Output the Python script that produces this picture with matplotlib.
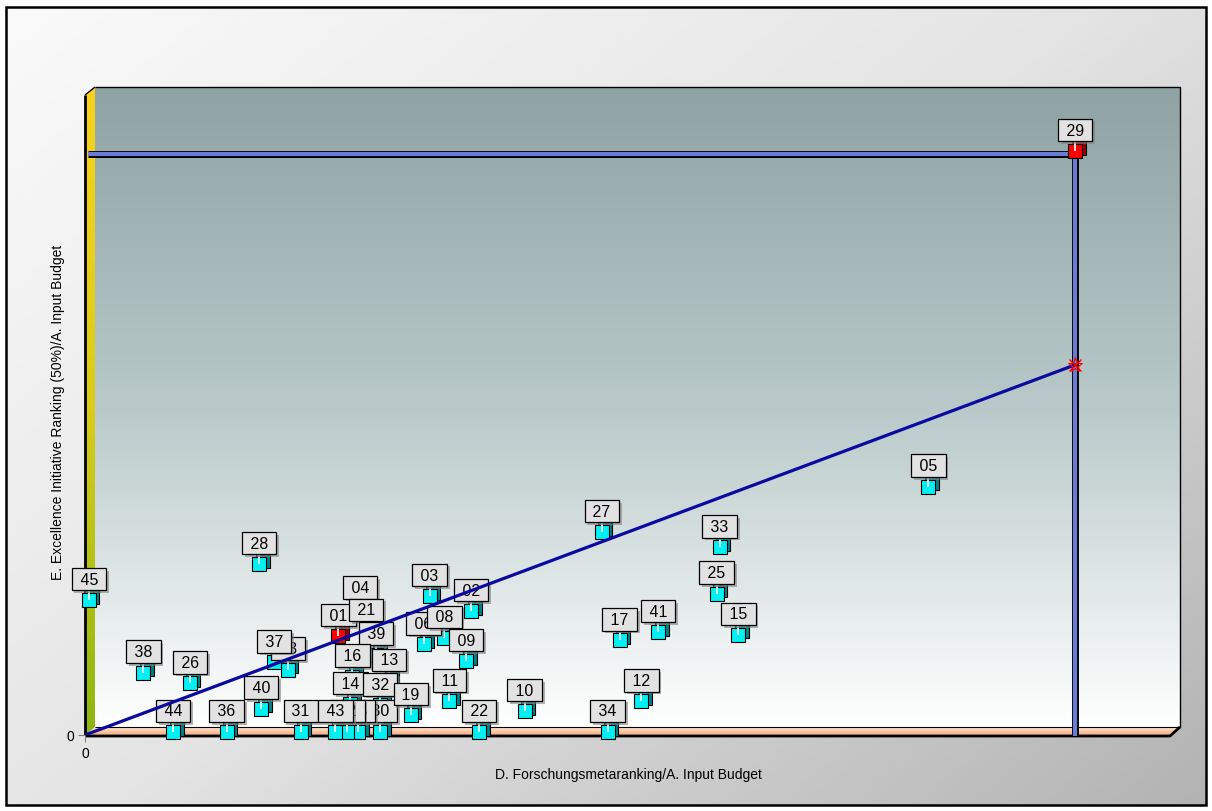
import matplotlib
matplotlib.use("Agg")
import matplotlib.pyplot as plt
import matplotlib.patheffects as pe
import numpy as np
from matplotlib.colors import LinearSegmentedColormap
from matplotlib.patches import Polygon, Rectangle
from matplotlib.transforms import offset_copy

plt.rcParams["font.family"] = ["Liberation Sans", "DejaVu Sans"]

# Punkte: Kennung, x = D. Forschungsmetaranking/A. Input Budget,
# y = E. Excellence Initiative Ranking (50%)/A. Input Budget (relative Einheiten)
# Reihenfolge = Zeichenreihenfolge (spätere Beschriftungen liegen oben)
labels = ["45", "38", "26", "44", "36", "28", "40", "23", "37", "31",
          "04", "30", "35", "42", "43", "01", "21", "39", "16", "14", "13", "32",
          "19", "06", "08", "03", "11", "09", "02", "22", "10", "27",
          "34", "12", "17", "41", "25", "33", "15", "05", "29"]
x_vals = [0.4, 5.9, 10.6, 8.9, 14.3, 17.6, 17.8, 20.5, 19.1, 21.8,
          27.8, 29.8, 27.6, 26.5, 25.3, 25.6, 28.4, 29.4, 27.0, 26.8, 30.7, 29.8,
          32.9, 34.2, 36.3, 34.8, 36.8, 38.5, 39.0, 39.8, 44.4, 52.2,
          52.8, 56.2, 54.0, 57.9, 63.8, 64.1, 66.0, 85.2, 100.0]
y_vals = [22.7, 10.2, 8.4, 0.0, 0.0, 28.9, 4.0, 10.7, 12.0, 0.0,
          21.3, 0.0, 0.0, 0.0, 0.0, 16.5, 17.4, 13.3, 9.5, 4.8, 8.8, 4.6,
          2.9, 15.1, 16.2, 23.4, 5.3, 12.2, 20.8, 0.0, 3.6, 34.4,
          0.0, 5.3, 15.8, 17.2, 23.8, 31.8, 16.7, 42.2, 100.0]
highlight = ["01", "29"]

TREND_SLOPE = 0.637  # Trendlinie durch den Ursprung
REF_POINT = "29"

W, H = 1212, 812
X0, Y0 = 85, 736          # Ursprung (Pixel)
X1, Y1 = 1180, 88         # rechte obere Ecke der Rückwand
DEPTH = 10                # 3D-Versatz
PX_X, PX_Y = 9.9, 5.81    # Pixel pro Einheit

fig = plt.figure(figsize=(W / 100, H / 100), dpi=100)
fig.patch.set_facecolor("white")

# Hintergrund in Pixelkoordinaten
bg = fig.add_axes([0, 0, 1, 1])
bg.axis("off")

frame = Rectangle((6, 8), 1200, 798, fill=False, ec="black", lw=1.8, zorder=3)
yy, xx = np.mgrid[0:1:200j, 0:1:300j]
bg.imshow(0.55 * xx + 0.45 * yy, extent=[6, 1206, 806, 8], aspect="auto", zorder=0,
          cmap=LinearSegmentedColormap.from_list("bg", ["#fafafa", "#e4e4e4", "#b3b3b3"]))

# Rückwand
wall = np.linspace(0, 1, 256).reshape(-1, 1)
bg.imshow(wall, extent=[X0 + DEPTH, X1, Y0 - 8, Y1], aspect="auto", zorder=1,
          cmap=LinearSegmentedColormap.from_list("wall", ["#8fa3a5", "#b9c9c9", "#ffffff"]))

# Seitenwand links (gelb -> grün)
side = Polygon([(X0, Y1 + 8), (X0 + DEPTH, Y1), (X0 + DEPTH, Y0 - 8), (X0, Y0)],
               closed=True, fc="none", ec="none")
bg.add_patch(side)
im = bg.imshow(wall, extent=[X0, X0 + DEPTH, Y0, Y1], aspect="auto", zorder=2,
               cmap=LinearSegmentedColormap.from_list("side", ["#f7d31e", "#d9cc1a", "#8db612"]))
im.set_clip_path(side)

# Boden
floor = Polygon([(X0, Y0 + 1), (X0 + DEPTH, Y0 - 8), (X1, Y0 - 8), (X1 - DEPTH, Y0 + 1)],
                closed=True, fc="none", ec="none")
bg.add_patch(floor)
im = bg.imshow(wall, extent=[X0, X1, Y0 + 1, Y0 - 8], aspect="auto", zorder=2,
               cmap=LinearSegmentedColormap.from_list("floor", ["#ffe6d2", "#f6a676"]))
im.set_clip_path(floor)
bg.set_xlim(0, W)
bg.set_ylim(H, 0)

edge = dict(color="black", zorder=3, solid_capstyle="butt")
bg.plot([X0 + DEPTH, X1, X1], [Y1, Y1, Y0 - 8], lw=1.0, **edge)
bg.plot([X0, X0 + DEPTH], [Y1 + 8, Y1], lw=1.0, **edge)
bg.plot([X0, X0], [Y1 + 8, Y0], lw=2.0, **edge)
bg.plot([X0 + DEPTH, X1], [Y0 - 8, Y0 - 8], lw=0.8, **edge)
bg.plot([X0, X1 - DEPTH, X1], [Y0 + 1, Y0 + 1, Y0 - 8], lw=2.0, **edge)
bg.add_patch(frame)
bg.set_xlim(0, W)
bg.set_ylim(H, 0)

# Datenachse
ax = fig.add_axes([X0 / W, (H - Y0) / H, (X1 - X0) / W, (Y0 - Y1) / H])
ax.set_xlim(0, (X1 - X0) / PX_X)
ax.set_ylim(0, (Y0 - Y1) / PX_Y)
ax.patch.set_alpha(0)
for s in ax.spines.values():
    s.set_visible(False)
ax.set_xticks([0])
ax.set_yticks([0])
ax.tick_params(length=5, width=0.8, color="#808080", labelsize=10, pad=3)

fig.text(628 / W, 1 - 775 / H, "D. Forschungsmetaranking/A. Input Budget",
         ha="center", va="center", fontsize=10)
fig.text(58 / W, 1 - 412 / H, "E. Excellence Initiative Ranking (50%)/A. Input Budget",
         ha="center", va="center", rotation=90, fontsize=10)

# Hilfslinien zum Referenzpunkt
ri = labels.index(REF_POINT)
rx, ry = x_vals[ri], y_vals[ri]
guide_fx = [pe.Stroke(linewidth=5, foreground="black"), pe.Normal()]
ax.plot([0.3, rx], [ry, ry], color="#6a7bd6", lw=3, zorder=2,
        solid_capstyle="butt", path_effects=guide_fx, clip_on=False)
ax.plot([rx, rx], [-0.2, ry], color="#6a7bd6", lw=3, zorder=2,
        solid_capstyle="butt", path_effects=guide_fx, clip_on=False)

# Trendlinie
ax.plot([0, rx], [0, TREND_SLOPE * rx], color="#0a0aa0", lw=2.3, zorder=20,
        solid_capstyle="round")
ax.plot([rx], [TREND_SLOPE * rx], marker="*", ms=11, color="red", mew=0.8,
        mfc="none", zorder=21)
ax.plot([rx], [TREND_SLOPE * rx], marker="x", ms=9, color="red", mew=1.0, zorder=21)

# Würfel
front = offset_copy(ax.transData, fig=fig, x=0, y=3, units="dots")
back = offset_copy(ax.transData, fig=fig, x=3.5, y=6.5, units="dots")
tick = offset_copy(ax.transData, fig=fig, x=0, y=9, units="dots")
for lab, x, y in zip(labels, x_vals, y_vals):
    red = lab in highlight
    ax.plot([x], [y], marker="s", ms=9.4, mfc="#9a0000" if red else "#007f86",
            mec="black", mew=0.8, transform=back, zorder=3, clip_on=False)
    ax.plot([x], [y], marker="s", ms=9.4, mfc="#ff0000" if red else "#00f0f4",
            mec="black", mew=0.8, transform=front, zorder=3.2, clip_on=False)
    ax.plot([x], [y], marker="|", ms=9, mec="white", mew=1.2, transform=tick,
            zorder=3.4, clip_on=False)

# Beschriftungen
for i, (lab, x, y) in enumerate(zip(labels, x_vals, y_vals)):
    t = ax.annotate(f" {lab} ", (x, y), xytext=(0, 24), textcoords="offset pixels",
                    ha="center", va="center", fontsize=11.5, zorder=4 + i * 0.1,
                    bbox=dict(boxstyle="square,pad=0.24", fc="#e2e2e2", ec="black", lw=0.9),
                    annotation_clip=False)
    t.get_bbox_patch().set_path_effects(
        [pe.withSimplePatchShadow(offset=(2, -2), shadow_rgbFace="#808080", alpha=0.6)])

fig.savefig("out.png", dpi=100)
